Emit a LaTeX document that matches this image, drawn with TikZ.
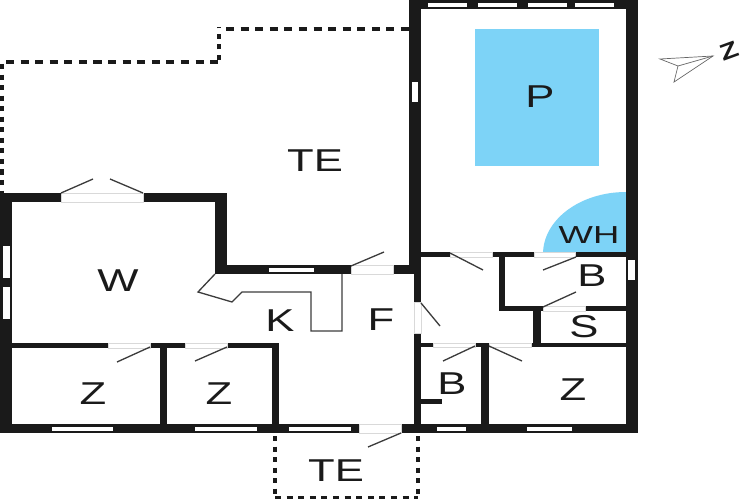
\documentclass[tikz,border=0pt]{standalone}
\usepackage{fontspec}
\setmainfont{Liberation Sans}
\definecolor{wallblack}{HTML}{1A1A1A}
\definecolor{poolblue}{HTML}{7DD3F7}
\tikzset{
	wall/.style={fill=wallblack, draw=none},
	pane/.style={fill=white, draw=none},
	opening/.style={fill=white, draw=black!15, line width=0.25pt},
	swing/.style={draw=wallblack!85, line width=0.75pt},
	longdash/.style={draw=wallblack, line width=1.9pt, dash pattern=on 4.6pt off 3.7pt},
	shortdash/.style={draw=wallblack, line width=2.1pt, dash pattern=on 2.9pt off 3.1pt},
	room/.style={font=\fontsize{18}{18}\selectfont, text=wallblack, inner sep=0pt, transform shape, xscale=1.38},
	smallroom/.style={font=\fontsize{14}{14}\selectfont, text=wallblack, inner sep=0pt, transform shape, xscale=1.48}
}

\begin{document}
\begin{tikzpicture}[x=0.02cm, y=-0.02cm]
	%%%%% START %%%%%
	\useasboundingbox (0, 0) rectangle (750, 500);

	% pool and hot tub
	\fill[poolblue] (475, 29) rectangle (599, 166);
	\fill[poolblue] (543, 254) arc (180:270:83 and 62) -- (626, 254) -- cycle;

	% terrace outlines
	\draw[longdash] (6, 62) -- (221, 62);
	\draw[shortdash] (219, 60) -- (219, 27);
	\draw[longdash] (226, 29) -- (409, 29);
	\draw[shortdash] (2, 64) -- (2, 193);
	\draw[shortdash] (275, 436) -- (275, 498);
	\draw[shortdash] (418, 436) -- (418, 498);
	\draw[line width=1.9pt, draw=wallblack, dash pattern=on 3.4pt off 3.2pt] (275, 497.5) -- (418, 497.5);

	% outer walls
	\fill[wall] (409, 0) rectangle (638, 9);
	\fill[wall] (409, 0) rectangle (421, 274);
	\fill[wall] (626, 0) rectangle (638, 433);
	\fill[wall] (0, 193) rectangle (227, 202);
	\fill[wall] (0, 193) rectangle (12, 433);
	\fill[wall] (215, 193) rectangle (227, 274);
	\fill[wall] (215, 265) rectangle (421, 274);
	\fill[wall] (414, 270) rectangle (421, 433);
	\fill[wall] (0, 424) rectangle (638, 433);

	% inner walls
	\fill[wall] (421, 252) rectangle (626, 257);
	\fill[wall] (499, 252) rectangle (505, 311);
	\fill[wall] (499, 306) rectangle (626, 311);
	\fill[wall] (533, 306) rectangle (541, 347);
	\fill[wall] (421, 343) rectangle (626, 347);
	\fill[wall] (481, 343) rectangle (489, 425);
	\fill[wall] (421, 399) rectangle (442, 404);
	\fill[wall] (12, 343) rectangle (279, 348);
	\fill[wall] (160, 343) rectangle (167, 425);
	\fill[wall] (272, 343) rectangle (279, 425);

	% windows
	\fill[pane] (428, 3) rectangle (467, 7);
	\fill[pane] (478, 3) rectangle (517, 7);
	\fill[pane] (528, 3) rectangle (567, 7);
	\fill[pane] (575, 3) rectangle (614, 7);
	\fill[pane] (412, 82) rectangle (418, 102);
	\fill[pane] (628, 260) rectangle (635, 280);
	\fill[pane] (3, 246) rectangle (10, 278);
	\fill[pane] (3, 287) rectangle (10, 319);
	\fill[pane] (269, 268) rectangle (314, 272);
	\fill[pane] (52, 427) rectangle (113, 431);
	\fill[pane] (195, 427) rectangle (257, 431);
	\fill[pane] (289, 427) rectangle (351, 431);
	\fill[pane] (437, 427) rectangle (466, 431);
	\fill[pane] (527, 427) rectangle (572, 431);

	% door openings
	\draw[opening] (61, 193) rectangle (143, 202);
	\draw[opening] (108, 343) rectangle (150, 348);
	\draw[opening] (185, 343) rectangle (227, 348);
	\draw[opening] (351, 265) rectangle (393, 274);
	\draw[opening] (359, 424) rectangle (401, 433);
	\draw[opening] (414, 302) rectangle (421, 333);
	\draw[opening] (450, 252) rectangle (492, 257);
	\draw[opening] (534, 252) rectangle (575, 257);
	\draw[opening] (543, 306) rectangle (585, 311);
	\draw[opening] (433, 343) rectangle (475, 347);
	\draw[opening] (489, 343) rectangle (531, 347);

	% door leaves
	\draw[swing] (61, 193) -- (93, 179);
	\draw[swing] (143, 193) -- (110, 179);
	\draw[swing] (150, 347) -- (117, 362);
	\draw[swing] (227, 347) -- (195, 361);
	\draw[swing] (351, 266) -- (384, 252);
	\draw[swing] (401, 433) -- (368, 447);
	\draw[swing] (421, 303) -- (440, 326);
	\draw[swing] (450, 253) -- (483, 270);
	\draw[swing] (576, 257) -- (543, 270);
	\draw[swing] (576, 292) -- (543, 307);
	\draw[swing] (475, 346) -- (443, 361);
	\draw[swing] (489, 346) -- (522, 361);

	% kitchen counter
	\draw[swing] (215, 274) -- (198, 292) -- (232, 302) -- (242, 292) -- (311, 292) -- (311, 331) -- (342, 331) -- (342, 274);

	% north arrow
	\draw[draw=black!60, line width=0.4pt] (660, 59) -- (713, 56) -- (674, 82) -- (678, 66) -- cycle;
	\draw[draw=black!60, line width=0.4pt] (678, 66) -- (713, 56);
	\node[font=\bfseries\fontsize{13}{13}\selectfont, text=wallblack, inner sep=0pt, rotate=20, transform shape, xscale=1.3] (north) at (729, 51) {Z};

	% room labels
	\node[room] (pool) at (540, 97) {P};
	\node[room] (terracenorth) at (315, 161) {TE};
	\node[room] (living) at (118, 281) {W};
	\node[room] (kitchen) at (280, 321) {K};
	\node[room] (hall) at (381, 320) {F};
	\node[room] (bedone) at (93, 394) {Z};
	\node[room] (bedtwo) at (219, 394) {Z};
	\node[room] (terracesouth) at (336, 471) {TE};
	\node[room] (bathone) at (452, 384) {B};
	\node[room] (bedthree) at (573, 390) {Z};
	\node[room] (bathtwo) at (592, 276) {B};
	\node[room] (sauna) at (584, 327) {S};
	\node[smallroom] (hottub) at (589, 235) {WH};
	%%%%% END %%%%%
\end{tikzpicture}
\end{document}
